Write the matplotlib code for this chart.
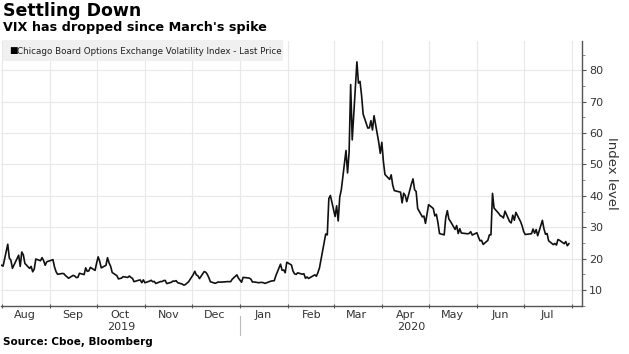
import datetime as dt
import matplotlib
matplotlib.use("Agg")
import matplotlib.pyplot as plt
import matplotlib.transforms as mtransforms
from matplotlib.patches import Rectangle
import pandas as pd

# VIX daily closes, Aug 2019 - Jul 2020, month by month
aug_19 = [17.87, 17.61, 24.59, 20.17, 19.49, 16.91, 17.97, 21.09, 17.52, 22.10, 21.18,
          18.47, 16.88, 17.50, 15.80, 16.68, 19.87, 19.32, 20.31, 19.35, 17.88, 18.98]
sep_19 = [19.66, 17.33, 15.82, 15.00, 15.27, 15.20, 14.61, 14.22, 13.74, 14.67, 14.44,
          13.95, 14.05, 15.32, 14.91, 17.05, 15.96, 16.07, 17.22, 16.24]
oct_19 = [18.56, 20.56, 19.12, 17.04, 17.86, 20.28, 18.64, 17.57, 15.58, 14.57, 13.54,
          13.68, 13.79, 14.25, 14.00, 14.46, 14.01, 13.71, 12.65, 13.11, 13.20, 12.33, 13.22]
nov_19 = [12.30, 12.83, 13.10, 12.62, 12.73, 12.07, 12.69, 12.68, 13.00, 13.05, 12.05,
          12.46, 12.86, 12.78, 12.98, 12.34, 11.87, 11.54, 11.75, 12.62]
dec_19 = [14.91, 15.96, 14.80, 14.52, 13.62, 15.86, 15.68, 14.99, 13.94, 12.63, 12.14,
          12.29, 12.58, 12.50, 12.51, 12.61, 12.67, 12.65, 13.43, 14.82, 13.78]
jan_20 = [12.47, 14.02, 13.85, 13.79, 13.45, 12.54, 12.56, 12.32, 12.39, 12.42, 12.32,
          12.10, 12.85, 12.91, 12.98, 14.56, 18.23, 16.28, 16.39, 15.49, 18.84]
feb_20 = [17.97, 16.05, 15.15, 14.96, 15.47, 15.04, 15.18, 13.74, 14.15, 13.68, 14.83,
          14.38, 15.56, 17.08, 25.03, 27.85, 27.56, 39.16, 40.11]
mar_20 = [33.42, 36.82, 31.99, 39.62, 41.94, 54.46, 47.30, 53.90, 75.47, 57.83, 82.69,
          75.91, 76.45, 72.00, 66.04, 61.59, 61.67, 63.95, 61.00, 65.54, 57.08, 53.54]
apr_20 = [57.06, 50.91, 46.80, 45.24, 46.70, 43.35, 41.67, 41.17, 37.76, 40.84, 40.11,
          38.15, 43.83, 45.41, 41.98, 41.38, 35.93, 33.29, 33.57, 31.23, 34.15]
may_20 = [37.19, 35.97, 33.61, 34.12, 31.44, 27.98, 27.57, 33.04, 35.28, 32.61, 31.89,
          29.30, 30.53, 27.99, 29.53, 28.16, 27.91, 28.01, 28.59, 27.51]
jun_20 = [28.23, 26.84, 25.66, 25.81, 24.52, 25.81, 27.57, 27.57, 40.79, 36.09, 34.40,
          33.67, 33.47, 32.94, 35.12, 31.77, 31.37, 33.84, 32.22, 34.73, 31.78, 30.43]
jul_20 = [28.62, 27.68, 27.94, 29.43, 28.08, 29.26, 27.29, 32.19, 29.52, 27.76, 28.00,
          25.68, 24.46, 24.84, 24.32, 26.08, 25.84, 24.74, 25.44, 24.10, 24.76]

market_holidays = ["2019-09-02", "2019-11-28", "2019-12-25", "2020-01-01", "2020-01-20",
                   "2020-02-17", "2020-04-10", "2020-05-25", "2020-07-03"]

month_labels = ["Aug", "Sep", "Oct", "Nov", "Dec", "Jan", "Feb", "Mar", "Apr", "May", "Jun", "Jul"]
year_labels = ["2019", "2020"]
y_ticks = [10, 20, 30, 40, 50, 60, 70, 80]

values = (aug_19 + sep_19 + oct_19 + nov_19 + dec_19 + jan_20 + feb_20 + mar_20 +
          apr_20 + may_20 + jun_20 + jul_20)
dates = pd.bdate_range("2019-08-01", "2020-07-30", freq="C", holidays=market_holidays)
assert len(dates) == len(values), (len(dates), len(values))

W, H = 629, 354
fig = plt.figure(figsize=(W / 100, H / 100), dpi=100)


def fx(px):
    return px / W


def fy(py):
    return 1 - py / H


ax = fig.add_axes([fx(1), fy(306), fx(582) - fx(1), fy(40.5) - fy(306)])
ax.plot(dates, values, color="#111111", lw=1.2, zorder=3)

ax.set_xlim(dt.datetime(2019, 7, 31, 16), dt.datetime(2020, 8, 7, 10))
ax.set_ylim(4.9, 89.5)

# month boundaries -> ticks and grid, month names centred in between
month_starts = pd.date_range("2019-08-01", "2020-08-01", freq="MS")
ax.set_xticks(month_starts)
ax.set_xticklabels([])
mid_months = [d + pd.Timedelta(days=15) for d in month_starts[:-1]]
ax.set_xticks(mid_months, minor=True)
ax.set_xticklabels(month_labels, minor=True)
ax.tick_params(axis="x", which="major", length=3, direction="inout", color="#555555", width=0.8)
ax.tick_params(axis="x", which="minor", length=0, pad=3, labelsize=8, labelcolor="#333333")

ax.yaxis.tick_right()
ax.yaxis.set_label_position("right")
ax.set_yticks(y_ticks)
ax.set_yticks(range(5, 90, 5), minor=True)
ax.tick_params(axis="y", which="major", length=3, direction="out", pad=2, labelsize=8,
               labelcolor="#333333", color="#555555", width=0.8)
ax.tick_params(axis="y", which="minor", length=2, direction="out", color="#777777", width=0.6)
ax.set_ylabel("Index level", rotation=270, fontsize=9.5, color="#333333", labelpad=11)

ax.grid(True, which="major", color="#e8e8e8", lw=0.8, zorder=0)
ax.set_axisbelow(True)
for side in ["top", "left"]:
    ax.spines[side].set_visible(False)
for side in ["right", "bottom"]:
    ax.spines[side].set_color("#555555")
    ax.spines[side].set_linewidth(1.0)

# year labels and separator under the axis
trans = mtransforms.blended_transform_factory(ax.transData, fig.transFigure)
ax.text(dt.datetime(2019, 10, 17), fy(327), year_labels[0], transform=trans, ha="center",
        va="center", fontsize=8, color="#333333")
ax.text(dt.datetime(2020, 4, 20), fy(327), year_labels[1], transform=trans, ha="center",
        va="center", fontsize=8, color="#333333")
ax.plot([dt.datetime(2020, 1, 1)] * 2, [fy(316), fy(335)], transform=trans, color="#bbbbbb",
        lw=0.8, clip_on=False)

# titles
fig.text(fx(3), fy(2), "Settling Down", fontsize=12.5, fontweight="bold", ha="left", va="top",
         color="#000000")
fig.text(fx(3), fy(21), "VIX has dropped since March's spike", fontsize=9.2, fontweight="bold",
         ha="left", va="top", color="#000000")

# legend box
fig.patches.append(Rectangle((fx(3), fy(61)), fx(283) - fx(3), fy(40) - fy(61),
                             transform=fig.transFigure, facecolor="#f0f0f0", edgecolor="none",
                             zorder=2))
fig.text(fx(9), fy(51), "\u25a0", fontsize=6.5, ha="left", va="center", color="#000000", zorder=3)
fig.text(fx(17), fy(51), "Chicago Board Options Exchange Volatility Index - Last Price",
         fontsize=6.3, ha="left", va="center", color="#222222", zorder=3)

fig.text(fx(3), fy(342), "Source: Cboe, Bloomberg", fontsize=7.5, fontweight="bold",
         ha="left", va="center", color="#000000")

fig.savefig("out.png", dpi=100)
